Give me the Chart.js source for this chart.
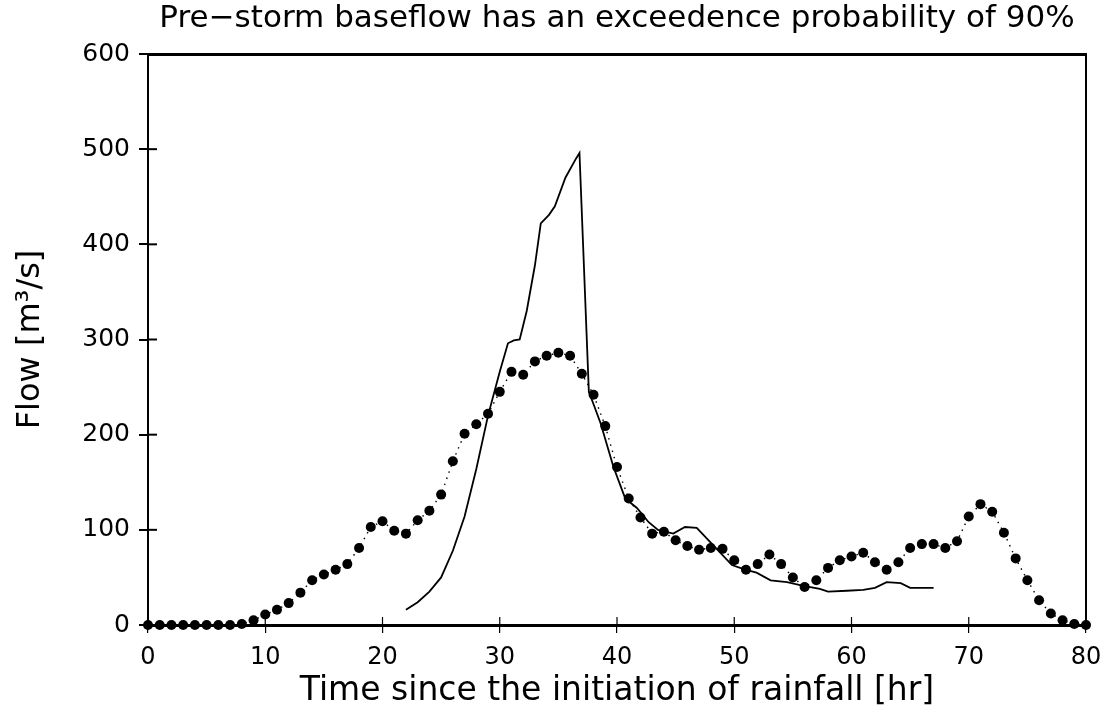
<!DOCTYPE html>
<html>
<head>
<meta charset="utf-8">
<script src="https://cdn.jsdelivr.net/npm/chart.js@4.4.1/dist/chart.umd.min.js"></script>
<style>
  html, body { margin: 0; padding: 0; background: #fff; }
</style>
</head>
<body>
<canvas id="flowChart" width="1107" height="723"></canvas>
<script>
// observed hourly flow (dots)
const obsHours = [0, 1, 2, 3, 4, 5, 6, 7, 8, 9, 10, 11, 12, 13, 14, 15, 16, 17, 18, 19,
  20, 21, 22, 23, 24, 25, 26, 27, 28, 29, 30, 31, 32, 33, 34, 35, 36, 37, 38, 39,
  40, 41, 42, 43, 44, 45, 46, 47, 48, 49, 50, 51, 52, 53, 54, 55, 56, 57, 58, 59,
  60, 61, 62, 63, 64, 65, 66, 67, 68, 69, 70, 71, 72, 73, 74, 75, 76, 77, 78, 79, 80];
const obsFlow = [0, 0, 0, 0, 0, 0, 0, 0, 1, 5, 11, 16, 23, 34, 47, 53, 58, 64, 81, 103,
  109, 99, 96, 110, 120, 137, 172, 201, 211, 222, 245, 266, 263, 277, 283, 286, 283, 264, 242, 209,
  166, 133, 113, 96, 98, 89, 83, 79, 81, 80, 68, 58, 64, 74, 64, 50, 40, 47, 60, 68,
  72, 76, 66, 58, 66, 81, 85, 85, 81, 88, 114, 127, 119, 97, 70, 47, 26, 12, 5, 1, 0];

// simulated flow (solid line)
const simHours = [22, 23, 24, 25, 26, 27, 28, 29, 30, 30.7, 31.2, 31.7, 32.3, 33, 33.5, 34.2,
  34.7, 35.6, 36.5, 36.8, 37.6, 38, 38.6, 39.7, 40.7, 41.7, 42.7, 43.5, 44.8, 45.8, 46.8,
  48.2, 49.8, 51, 51.9, 53.1, 54.5, 55.9, 57.3, 58, 59.6, 61, 62, 63, 64.2, 65, 67];
const simFlow = [16, 24, 35, 50, 78, 114, 164, 220, 266, 296, 299, 300, 330, 378, 422, 431,
  440, 470, 490, 496, 245, 232, 212, 166, 133, 123, 108, 100, 96, 103, 102,
  84, 63, 58, 55, 47, 45, 41, 38, 35, 36, 37, 39, 45, 44, 39, 39];

const xTickValues = [0, 10, 20, 30, 40, 50, 60, 70, 80];
const yTickValues = [0, 100, 200, 300, 400, 500, 600];

const chartTitle = 'Pre\u2212storm baseflow has an exceedence probability of 90%';
const xTitle = 'Time since the initiation of rainfall [hr]';
const yTitle = 'Flow [m\u00B3/s]';

const FONT = '"DejaVu Sans", sans-serif';

// tick marks that cross the axes
const crossTicks = {
  id: 'crossTicks',
  afterDatasetsDraw(chart) {
    const { ctx, chartArea, scales } = chart;
    ctx.save();
    ctx.strokeStyle = '#000';
    ctx.lineWidth = 2;
    scales.y.ticks.forEach(t => {
      const py = scales.y.getPixelForValue(t.value);
      ctx.beginPath();
      ctx.moveTo(chartArea.left, py);
      ctx.lineTo(chartArea.left + 9, py);
      ctx.stroke();
    });
    ctx.lineWidth = 1.2;
    scales.x.ticks.forEach(t => {
      const px = scales.x.getPixelForValue(t.value);
      ctx.beginPath();
      ctx.moveTo(px, chartArea.bottom);
      ctx.lineTo(px, chartArea.bottom - 8);
      ctx.stroke();
    });
    ctx.restore();
  }
};

const canvas = document.getElementById('flowChart');

new Chart(canvas, {
  type: 'line',
  data: {
    datasets: [
      {
        label: 'Observed',
        data: obsHours.map((h, i) => ({ x: h, y: obsFlow[i] })),
        borderColor: '#000',
        borderWidth: 1.4,
        borderDash: [1.5, 5],
        pointRadius: 5,
        pointBackgroundColor: '#000',
        pointBorderWidth: 0,
        tension: 0,
        clip: 6
      },
      {
        label: 'Simulated',
        data: simHours.map((h, i) => ({ x: h, y: simFlow[i] })),
        borderColor: '#000',
        borderWidth: 1.8,
        pointRadius: 0,
        tension: 0
      }
    ]
  },
  options: {
    responsive: false,
    animation: false,
    devicePixelRatio: 1,
    layout: { padding: 0 },
    plugins: {
      legend: { display: false },
      tooltip: { enabled: false }
    },
    scales: {
      x: {
        type: 'linear',
        position: 'bottom',
        min: 0,
        max: 80,
        afterBuildTicks: s => { s.ticks = xTickValues.map(v => ({ value: v })); },
        afterFit: s => { s.height = 98; },
        grid: { drawOnChartArea: false, tickLength: 8, color: '#000', lineWidth: 1.2 },
        border: { display: true, color: '#000', width: 3 },
        ticks: { color: '#000', padding: 4, font: { family: FONT, size: 24, lineHeight: 1.7 } },
        title: {
          display: true, text: xTitle, color: '#000',
          font: { family: FONT, size: 33 }, padding: { top: 0, bottom: 12 }
        }
      },
      xTop: {
        type: 'linear',
        position: 'top',
        min: 0,
        max: 80,
        afterFit: s => { s.height = 54; },
        grid: { drawOnChartArea: false, drawTicks: false },
        border: { display: true, color: '#000', width: 3 },
        ticks: { display: false },
        title: {
          display: true, text: chartTitle, color: '#000',
          font: { family: FONT, size: 31 }, padding: { top: 0, bottom: 0 }
        }
      },
      y: {
        type: 'linear',
        position: 'left',
        min: 0,
        max: 600,
        afterBuildTicks: s => { s.ticks = yTickValues.map(v => ({ value: v })); },
        afterFit: s => { s.width = 148; },
        grid: { drawOnChartArea: false, tickLength: 9, color: '#000', lineWidth: 2 },
        border: { display: true, color: '#000', width: 2 },
        ticks: { color: '#000', padding: 9, font: { family: FONT, size: 25 } },
        title: {
          display: true, text: yTitle, color: '#000',
          font: { family: FONT, size: 32 }, padding: { top: 11, bottom: 0 }
        }
      },
      yRight: {
        type: 'linear',
        position: 'right',
        min: 0,
        max: 600,
        afterFit: s => { s.width = 21; },
        grid: { drawOnChartArea: false, drawTicks: false },
        border: { display: true, color: '#000', width: 2 },
        ticks: { display: false }
      }
    }
  },
  plugins: [crossTicks]
});
</script>
</body>
</html>
